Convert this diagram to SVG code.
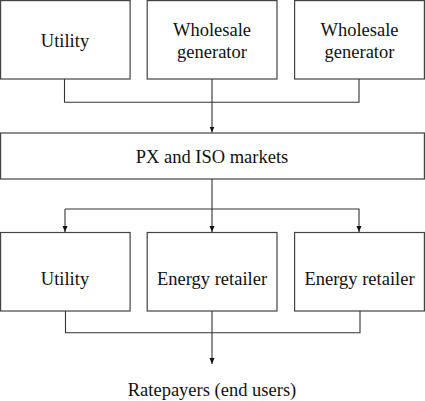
<svg xmlns="http://www.w3.org/2000/svg" width="425" height="401" viewBox="0 0 425 401">
<style>
.n{fill:#fff;stroke:#444;stroke-width:1.2}
text{font-family:'Liberation Serif','Times New Roman',serif;font-size:18.5px;fill:#111;text-anchor:middle}
.c{fill:none;stroke:#333;stroke-width:1.1}
</style>
<defs>
<marker id="a" viewBox="0 0 6 6" refX="6" refY="3" markerWidth="6" markerHeight="6" markerUnits="userSpaceOnUse" orient="auto">
<path d="M0,0.5 L6,3 L0,5.5 Z" fill="#111"/>
</marker>
</defs>
<rect width="425" height="401" fill="#fff"/>
<g id="utility1"><rect class="n" x="0.6" y="0.6" width="129.5" height="78.4"/><text x="65" y="47">Utility</text></g>
<g id="wholesale1"><rect class="n" x="147.2" y="0.6" width="129.8" height="78.4"/><text x="212" y="36">Wholesale</text><text x="212" y="58">generator</text></g>
<g id="wholesale2"><rect class="n" x="294.6" y="0.6" width="129.8" height="78.4"/><text x="359.5" y="36">Wholesale</text><text x="359.5" y="58">generator</text></g>
<g id="px"><rect class="n" x="0.6" y="133" width="423.8" height="46"/><text x="212" y="163">PX and ISO markets</text></g>
<g id="utility2"><rect class="n" x="0.6" y="232.5" width="129.5" height="78.5"/><text x="65" y="285">Utility</text></g>
<g id="retailer1"><rect class="n" x="147.2" y="232.5" width="129.8" height="78.5"/><text x="212" y="285">Energy retailer</text></g>
<g id="retailer2"><rect class="n" x="294.6" y="232.5" width="129.8" height="78.5"/><text x="359.5" y="285">Energy retailer</text></g>
<g id="ratepayers"><text x="212" y="396">Ratepayers (end users)</text></g>
<g id="connectors">
<path class="c" d="M64.5,79 V102.3 H359 V79"/>
<path class="c" d="M212,79 V132.5" marker-end="url(#a)"/>
<path class="c" d="M212,179 V232" marker-end="url(#a)"/>
<path class="c" d="M65,209 H359 V232" marker-end="url(#a)"/>
<path class="c" d="M65,209 V232" marker-end="url(#a)"/>
<path class="c" d="M65.5,311 V332.7 H360 V311"/>
<path class="c" d="M212,311 V364" marker-end="url(#a)"/>
</g>
</svg>
